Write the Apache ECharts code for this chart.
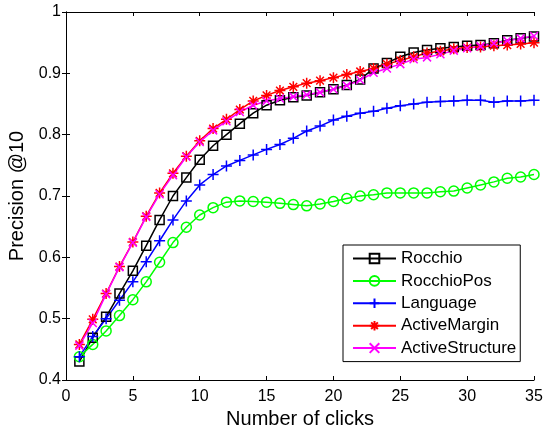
<!DOCTYPE html>
<html>
<head>
<meta charset="utf-8">
<script src="https://cdn.jsdelivr.net/npm/echarts@6/dist/echarts.min.js"></script>
<style>
  html, body { margin: 0; padding: 0; background: #fff; }
  #chart { width: 548px; height: 429px; }
</style>
</head>
<body>
<div id="chart"></div>
<script>
// clicks 1..35
var clicks = [];
for (var i = 1; i <= 35; i++) clicks.push(i);

var rocchio = [0.430, 0.469, 0.503, 0.541, 0.578, 0.619, 0.661, 0.700, 0.730, 0.759,
  0.782, 0.800, 0.818, 0.835, 0.848, 0.856, 0.861, 0.864, 0.869, 0.874,
  0.881, 0.890, 0.908, 0.917, 0.927, 0.934, 0.938, 0.941, 0.943, 0.945,
  0.946, 0.949, 0.954, 0.957, 0.960];
var rocchioPos = [0.438, 0.458, 0.480, 0.505, 0.531, 0.560, 0.592, 0.624, 0.649, 0.669,
  0.681, 0.690, 0.692, 0.691, 0.690, 0.688, 0.686, 0.684, 0.687, 0.691,
  0.696, 0.700, 0.702, 0.705, 0.705, 0.705, 0.705, 0.707, 0.708, 0.713,
  0.718, 0.723, 0.729, 0.731, 0.735];
var language = [0.438, 0.471, 0.500, 0.530, 0.560, 0.593, 0.627, 0.661, 0.692, 0.718,
  0.735, 0.749, 0.758, 0.767, 0.776, 0.784, 0.794, 0.806, 0.814, 0.824,
  0.830, 0.835, 0.838, 0.843, 0.847, 0.850, 0.853, 0.854, 0.855, 0.856,
  0.856, 0.853, 0.855, 0.855, 0.856];
var activeMargin = [0.458, 0.499, 0.541, 0.585, 0.625, 0.667, 0.705, 0.737, 0.765, 0.790,
  0.810, 0.825, 0.841, 0.855, 0.864, 0.872, 0.878, 0.884, 0.888, 0.893,
  0.898, 0.903, 0.908, 0.915, 0.921, 0.927, 0.933, 0.936, 0.940, 0.942,
  0.943, 0.945, 0.946, 0.948, 0.950];
var activeStructure = [0.456, 0.493, 0.540, 0.584, 0.624, 0.666, 0.703, 0.734, 0.764, 0.788,
  0.807, 0.822, 0.837, 0.848, 0.855, 0.859, 0.862, 0.865, 0.869, 0.874,
  0.880, 0.889, 0.901, 0.908, 0.915, 0.923, 0.926, 0.931, 0.937, 0.941,
  0.944, 0.949, 0.953, 0.957, 0.961];

var font = 'Liberation Sans, Arial, Helvetica, sans-serif';

function pairs(arr) {
  return clicks.map(function (x, i) { return [x, arr[i]]; });
}

// marker shapes (stroked paths)
var plusPath = 'path://M0,-10L0,10M-10,0L10,0';
var starPath = 'path://M0,-10L0,10M-10,0L10,0M-7,-7L7,7M-7,7L7,-7';
var crossPath = 'path://M-10,-10L10,10M-10,10L10,-10';

function mkSeries(name, arr, color, symbol, size) {
  return {
    name: name,
    type: 'line',
    data: pairs(arr),
    symbol: symbol,
    symbolSize: size,
    showAllSymbol: true,
    lineStyle: { color: color, width: 1.5 },
    itemStyle: { color: 'rgba(0,0,0,0)', borderColor: color, borderWidth: 1.5 },
    emphasis: { disabled: true }
  };
}

var chart = echarts.init(document.getElementById('chart'));
var option = {
  animation: false,
  backgroundColor: '#fff',
  grid: { left: 66, right: 14, top: 12, bottom: 49, outerBoundsMode: 'none' },
  legend: {
    orient: 'vertical',
    left: 343,
    top: 245,
    padding: [5, 4, 5, 9],
    itemWidth: 43,
    itemHeight: 12,
    itemGap: 5.4,
    borderColor: '#000',
    borderWidth: 1,
    backgroundColor: '#fff',
    textStyle: { fontFamily: font, fontSize: 17, color: '#000' },
    data: ['Rocchio', 'RocchioPos', 'Language', 'ActiveMargin', 'ActiveStructure']
  },
  xAxis: [{
    type: 'value', min: 0, max: 35, interval: 5,
    name: 'Number of clicks', nameLocation: 'middle', nameGap: 25,
    nameTextStyle: { fontFamily: font, fontSize: 20, color: '#000' },
    axisLine: { lineStyle: { color: '#000', width: 1 } },
    axisTick: { inside: true, length: 4, lineStyle: { color: '#000' } },
    axisLabel: { fontFamily: font, fontSize: 16, color: '#000', margin: 9 },
    splitLine: { show: false }
  }, {
    type: 'value', min: 0, max: 35, interval: 5, position: 'top',
    axisLine: { lineStyle: { color: '#000', width: 1 } },
    axisTick: { inside: true, length: 4, lineStyle: { color: '#000' } },
    axisLabel: { show: false },
    splitLine: { show: false }
  }],
  yAxis: [{
    type: 'value', min: 0.4, max: 1, interval: 0.1,
    name: 'Precision @10', nameLocation: 'middle', nameGap: 32, nameRotate: 90,
    nameTextStyle: { fontFamily: font, fontSize: 20, color: '#000' },
    axisLine: { show: true, lineStyle: { color: '#000', width: 1 } },
    axisTick: { show: true, inside: true, length: 4, lineStyle: { color: '#000' } },
    axisLabel: { fontFamily: font, fontSize: 16, color: '#000', margin: 5 },
    splitLine: { show: false }
  }, {
    type: 'value', min: 0.4, max: 1, interval: 0.1, position: 'right',
    axisLine: { show: true, lineStyle: { color: '#000', width: 1 } },
    axisTick: { show: true, inside: true, length: 4, lineStyle: { color: '#000' } },
    axisLabel: { show: false },
    splitLine: { show: false }
  }],
  series: [
    mkSeries('Rocchio', rocchio, '#000000', 'rect', 9),
    mkSeries('RocchioPos', rocchioPos, '#00ff00', 'circle', 10),
    mkSeries('Language', language, '#0000ff', plusPath, 11),
    mkSeries('ActiveMargin', activeMargin, '#ff0000', starPath, 11),
    mkSeries('ActiveStructure', activeStructure, '#ff00ff', crossPath, 8)
  ]
};
chart.setOption(option);
</script>
</body>
</html>
